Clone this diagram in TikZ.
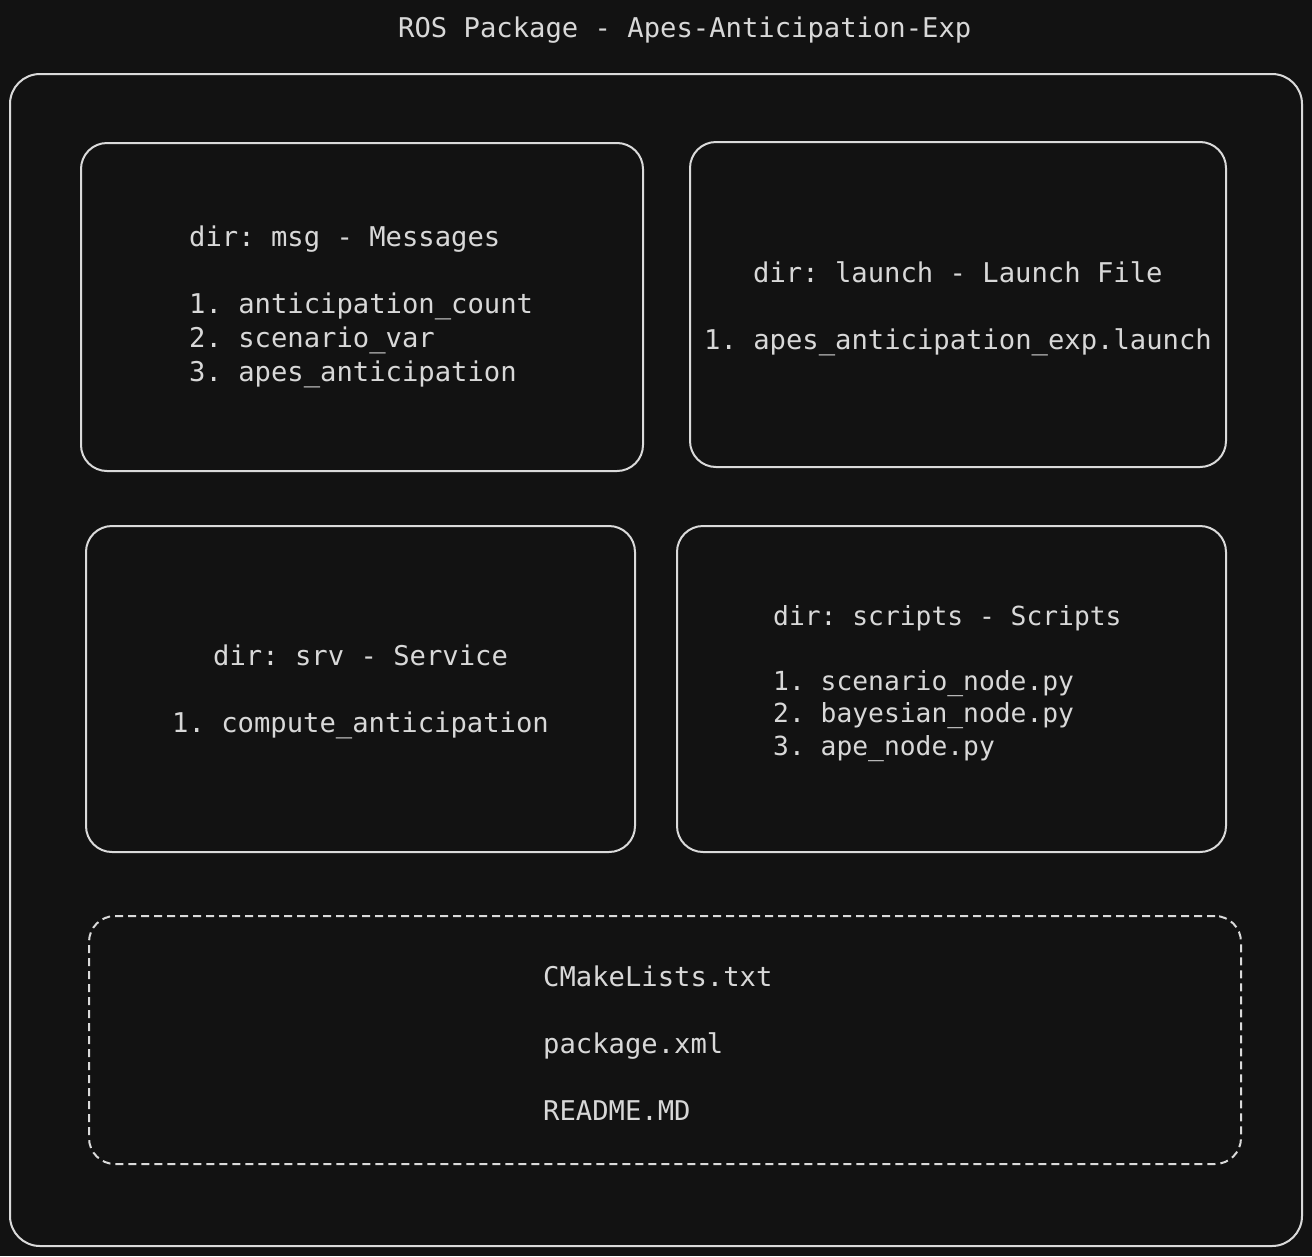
\documentclass[tikz,border=0pt]{standalone}
\usepackage{fontspec}
\setmonofont{DejaVu Sans Mono}
\begin{document}
\definecolor{bgdark}{HTML}{121212}
\definecolor{inkline}{HTML}{DADADA}
\definecolor{inktext}{HTML}{D8D8D8}
\begin{tikzpicture}[x=1pt,y=-1pt,
  frame/.style={draw=inkline, line width=2pt, rounded corners=#1, inner sep=0pt},
  frame/.default=26pt,
  txt/.style={anchor=base west, inner sep=0pt, text=inktext,
    font=\ttfamily\fontsize{27.2}{33.5}\selectfont},
  smalltxt/.style={txt, font=\ttfamily\fontsize{26.3}{32.5}\selectfont}
]
  % canvas
  \fill[bgdark] (0,0) rectangle (1312,1256);
  \useasboundingbox (0,0) rectangle (1312,1256);

  % title
  \node[txt] (title) at (398,37) {ROS Package - Apes-Anticipation-Exp};

  % package outline
  \node[frame=30pt, minimum width=1292pt, minimum height=1172pt] (pkg) at (656,660) {};

  % directory boxes
  \node[frame, minimum width=562pt, minimum height=328pt] (msgbox) at (362,307) {};
  \node[frame, minimum width=536pt, minimum height=325pt] (launchbox) at (958,304.5) {};
  \node[frame, minimum width=549pt, minimum height=326pt] (srvbox) at (360.5,689) {};
  \node[frame, minimum width=549pt, minimum height=326pt] (scriptsbox) at (951.5,689) {};

  % top-level files
  \node[frame, dash pattern=on 8pt off 5pt, minimum width=1152pt, minimum height=248pt] (filebox) at (665,1040) {};

  % msg
  \node[txt] (msgHead) at (189,246) {dir: msg - Messages};
  \node[txt] (msgA) at (189,313) {1. anticipation\_count};
  \node[txt] (msgB) at (189,347) {2. scenario\_var};
  \node[txt] (msgC) at (189,381) {3. apes\_anticipation};

  % launch
  \node[txt] (launchHead) at (753,282) {dir: launch - Launch File};
  \node[txt] (launchA) at (704,349) {1. apes\_anticipation\_exp.launch};

  % srv
  \node[txt] (srvHead) at (213,665) {dir: srv - Service};
  \node[txt] (srvA) at (172,732) {1. compute\_anticipation};

  % scripts
  \node[smalltxt] (scrHead) at (773,625) {dir: scripts - Scripts};
  \node[smalltxt] (scrA) at (773,690) {1. scenario\_node.py};
  \node[smalltxt] (scrB) at (773,722) {2. bayesian\_node.py};
  \node[smalltxt] (scrC) at (773,755) {3. ape\_node.py};

  % files
  \node[txt] (cmake) at (543,986) {CMakeLists.txt};
  \node[txt] (pkgxml) at (543,1053) {package.xml};
  \node[txt] (readme) at (543,1120) {README.MD};
\end{tikzpicture}
\end{document}
